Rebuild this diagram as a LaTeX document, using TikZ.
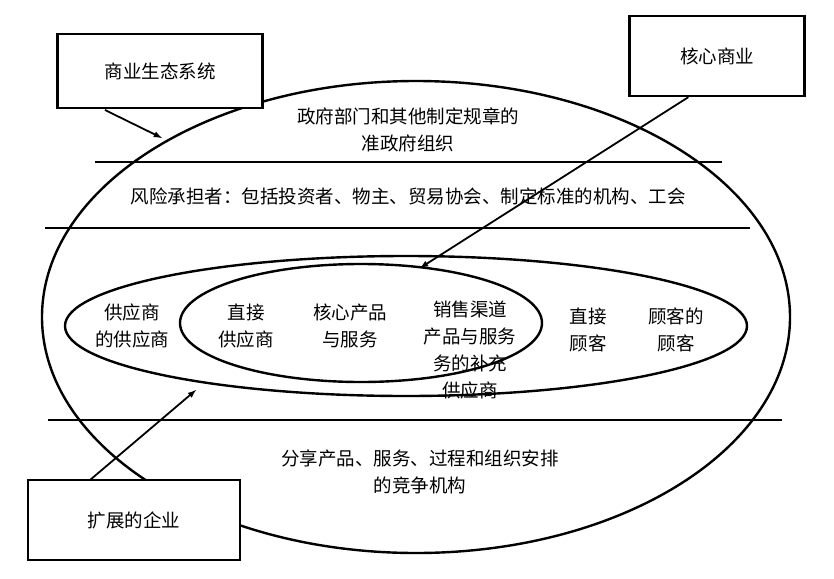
\documentclass[tikz,border=0pt]{standalone}
\usepackage{fontspec}
\setmainfont{Noto Sans CJK SC}
\begin{document}
\begin{tikzpicture}[x=1pt,y=-1pt,
 lw/.style={line width=2.4pt},
 t/.style={font=\fontsize{18.5}{27}\selectfont,align=center,inner sep=0},
 bx/.style={draw,line width=2.4pt,fill=white,minimum width=#1,minimum height=74,font=\fontsize{18.5}{27}\selectfont},
 ar/.style={line width=1.8pt,-latex}]
\useasboundingbox (0,0) rectangle (834,578);
\draw[lw] (416,317) ellipse [x radius=374,y radius=236];
\draw[lw] (95,162) -- (722,162);
\draw[lw] (45,228) -- (750,228);
\draw[lw] (48,420) -- (782,420);
\draw[lw] (406,326) ellipse [x radius=341,y radius=70];
\draw[lw] (361,323) ellipse [x radius=181,y radius=59];
\node[t] (g) at (408,130) {政府部门和其他制定规章的\\准政府组织};
\node[t] (r) at (408,196) {风险承担者：包括投资者、物主、贸易协会、制定标准的机构、工会};
\node[t] (s1) at (132,326) {供应商\\的供应商};
\node[t] (s2) at (246,326) {直接\\供应商};
\node[t] (c) at (350,326) {核心产品\\与服务};
\node[t] (x) at (470,350) {销售渠道\\产品与服务\\务的补充\\供应商};
\node[t] (d) at (588,330) {直接\\顾客};
\node[t] (dd) at (676,330) {顾客的\\顾客};
\node[t] (k) at (420,472) {分享产品、服务、过程和组织安排\\的竞争机构};
\node[bx=205] (b1) at (160,71) {商业生态系统};
\node[bx=175,minimum height=80] (b2) at (717,56) {核心商业};
\node[bx=212,minimum height=80] (b3) at (134,520) {扩展的企业};
\coordinate (e1) at (162,138);
\coordinate (e2) at (420,268);
\coordinate (e3) at (196,390);
\draw[ar] (105,110) -- (e1);
\draw[ar] (b2.south west)++(60,0) -- (e2);
\draw[ar] (90,480) -- (e3);
\end{tikzpicture}
\end{document}
